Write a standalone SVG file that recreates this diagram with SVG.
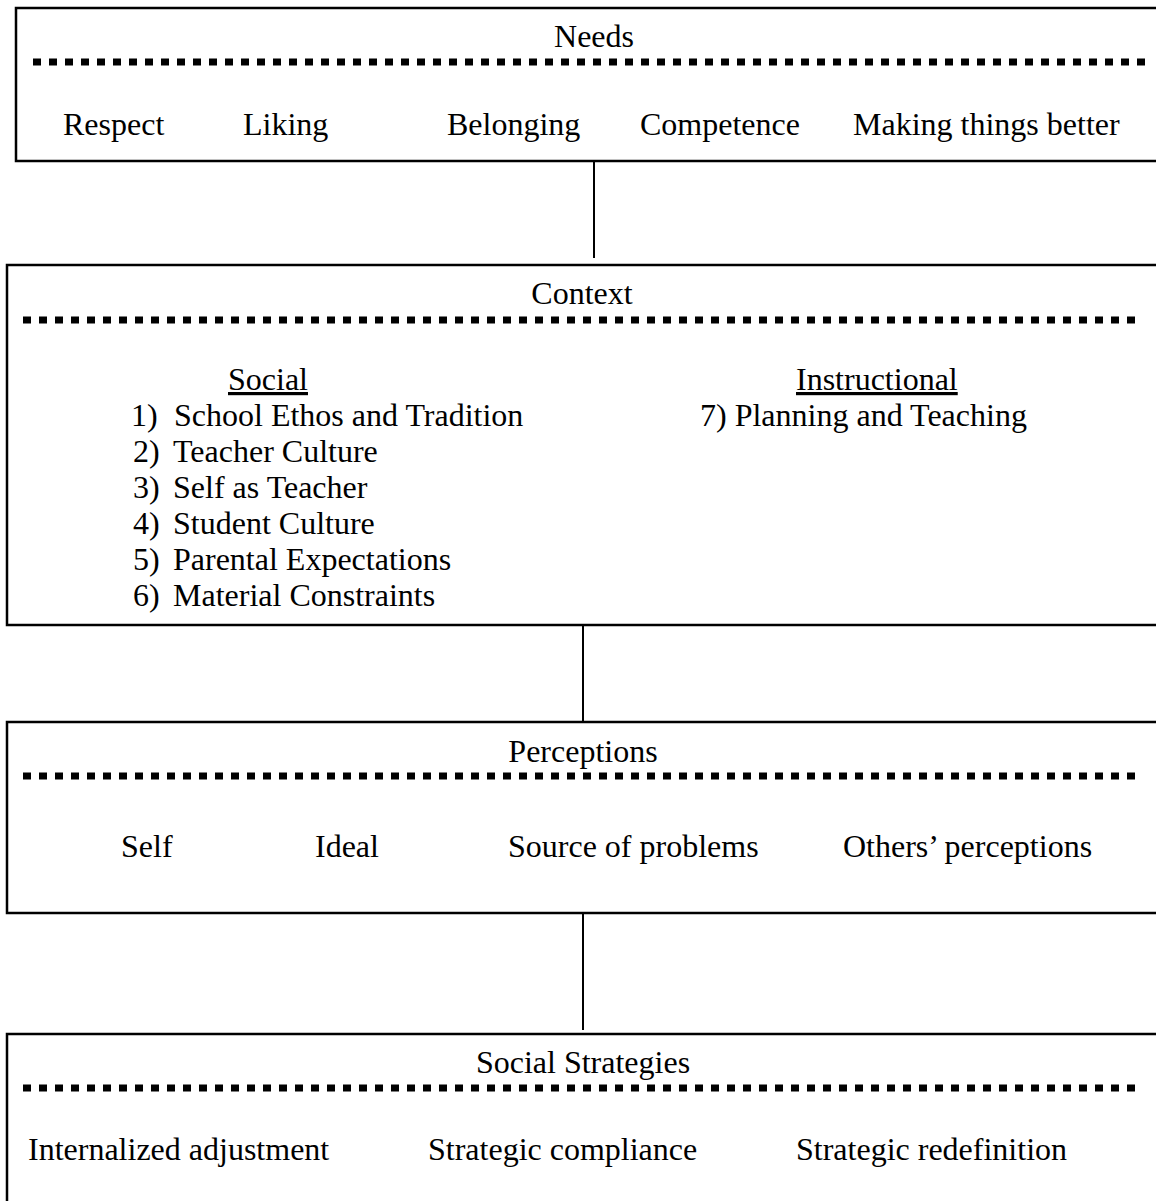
<svg xmlns="http://www.w3.org/2000/svg" width="1156" height="1201" viewBox="0 0 1156 1201">
<style>
.box{fill:#fff;stroke:#000;stroke-width:2.5}
.dots{stroke:#000;stroke-width:7;stroke-dasharray:8 8}
.conn{stroke:#000;stroke-width:2}
text{font-family:"Liberation Serif","Times New Roman",serif;font-size:32px;fill:#000}
.u{text-decoration:underline}
</style>
<rect width="1156" height="1201" fill="#fff"/>
<g id="needs">
<rect class="box" x="16" y="8" width="1160" height="153"/>
<text x="594" y="47" text-anchor="middle">Needs</text>
<line class="dots" x1="33" y1="62" x2="1148" y2="62"/>
<text x="63" y="135">Respect</text>
<text x="243" y="135">Liking</text>
<text x="447" y="135">Belonging</text>
<text x="640" y="135">Competence</text>
<text x="853" y="135">Making things better</text>
</g>
<g id="context">
<rect class="box" x="7" y="265" width="1170" height="360"/>
<text x="582" y="304" text-anchor="middle">Context</text>
<line class="dots" x1="23" y1="320" x2="1140" y2="320"/>
<text x="228" y="390" class="u">Social</text>
<text x="796" y="390" class="u">Instructional</text>
<text x="131" y="426">1)</text><text x="174" y="426">School Ethos and Tradition</text>
<text x="133" y="462">2)</text><text x="173" y="462">Teacher Culture</text>
<text x="133" y="498">3)</text><text x="173" y="498">Self as Teacher</text>
<text x="133" y="534">4)</text><text x="173" y="534">Student Culture</text>
<text x="133" y="570">5)</text><text x="173" y="570">Parental Expectations</text>
<text x="133" y="606">6)</text><text x="173" y="606">Material Constraints</text>
<text x="700" y="426">7) Planning and Teaching</text>
</g>
<g id="perceptions">
<rect class="box" x="7" y="722" width="1170" height="191"/>
<text x="583" y="762" text-anchor="middle">Perceptions</text>
<line class="dots" x1="23" y1="776" x2="1140" y2="776"/>
<text x="121" y="857">Self</text>
<text x="315" y="857">Ideal</text>
<text x="508" y="857">Source of problems</text>
<text x="843" y="857">Others’ perceptions</text>
</g>
<g id="strategies">
<rect class="box" x="7" y="1034" width="1170" height="200"/>
<text x="583" y="1073" text-anchor="middle">Social Strategies</text>
<line class="dots" x1="23" y1="1088" x2="1140" y2="1088"/>
<text x="28" y="1160">Internalized adjustment</text>
<text x="428" y="1160">Strategic compliance</text>
<text x="796" y="1160">Strategic redefinition</text>
</g>
<g id="connectors">
<line class="conn" x1="594" y1="161" x2="594" y2="258"/>
<line class="conn" x1="583" y1="625" x2="583" y2="722"/>
<line class="conn" x1="583" y1="913" x2="583" y2="1030"/>
</g>
</svg>
